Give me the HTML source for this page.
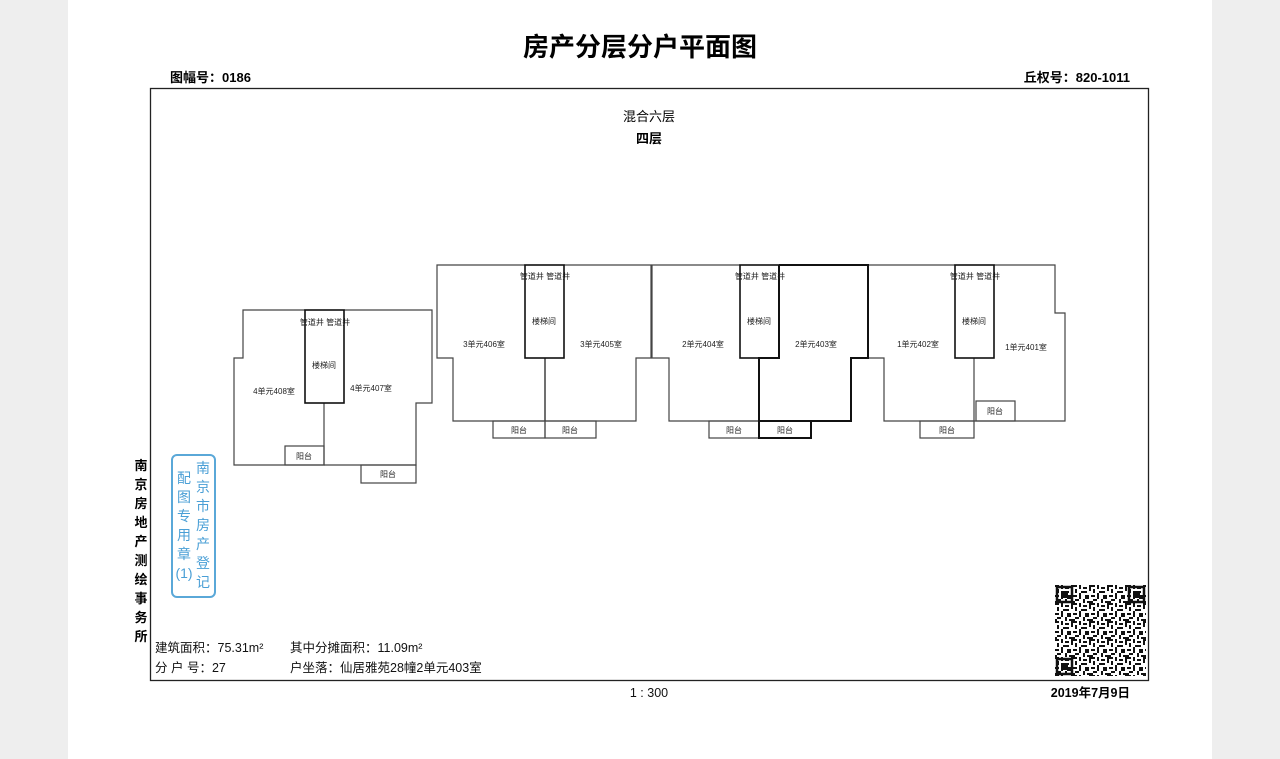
<!DOCTYPE html>
<html><head><meta charset="utf-8"><style>
html,body{margin:0;padding:0;background:#eeeeee;}
svg{display:block;}
text{font-family:"Liberation Sans","Noto Sans CJK SC",sans-serif;}
</style></head><body>
<svg width="1280" height="759" viewBox="0 0 1280 759" xmlns="http://www.w3.org/2000/svg">
<defs>
<pattern id="qr" x="1055" y="585" width="18" height="18" patternUnits="userSpaceOnUse">
<rect x="0" y="0" width="4" height="2" fill="#111"/><rect x="6" y="0" width="2" height="4" fill="#111"/><rect x="10" y="2" width="4" height="2" fill="#111"/><rect x="16" y="0" width="2" height="6" fill="#111"/>
<rect x="2" y="4" width="2" height="4" fill="#111"/><rect x="8" y="6" width="6" height="2" fill="#111"/><rect x="0" y="10" width="4" height="2" fill="#111"/><rect x="6" y="8" width="2" height="6" fill="#111"/>
<rect x="12" y="10" width="4" height="4" fill="#111"/><rect x="2" y="14" width="4" height="2" fill="#111"/><rect x="10" y="14" width="2" height="4" fill="#111"/><rect x="14" y="16" width="4" height="2" fill="#111"/><rect x="0" y="16" width="2" height="2" fill="#111"/>
</pattern>
</defs>
<rect x="68" y="0" width="1144" height="759" fill="#fff"/>
<text x="640" y="56" font-size="26" font-weight="bold" text-anchor="middle">房产分层分户平面图</text>
<text x="170" y="82" font-size="13" font-weight="bold">图幅号：0186</text>
<text x="1130" y="82" font-size="13" font-weight="bold" text-anchor="end">丘权号：820-1011</text>
<rect x="150.5" y="88.5" width="998" height="592" fill="none" stroke="#222" stroke-width="1.3"/>
<text x="649" y="121" font-size="13" text-anchor="middle">混合六层</text>
<text x="649" y="143" font-size="13" font-weight="bold" text-anchor="middle">四层</text>
<g fill="none" stroke="#444" stroke-width="1.2">
<polyline points="305,310 243,310 243,358 234,358 234,465 324,465 324,403"/>
<polyline points="344,310 432,310 432,403 416,403 416,465 324,465"/>
<rect x="305" y="310" width="39" height="93" stroke="#111" stroke-width="1.6"/>
<rect x="285" y="446" width="39" height="19"/>
<rect x="361" y="465" width="55" height="18"/>
<polyline points="525,265 437,265 437,358 453,358 453,421 636,421 636,358 651,358 651,265 564,265"/>
<rect x="525" y="265" width="39" height="93" stroke="#111" stroke-width="1.6"/>
<line x1="545" y1="358" x2="545" y2="421" stroke="#111"/>
<rect x="493" y="421" width="52" height="17"/><rect x="545" y="421" width="51" height="17"/>
<polyline points="740,265 652,265 652,358 669,358 669,421 759,421"/>
<rect x="740" y="265" width="39" height="93" stroke="#111" stroke-width="1.6"/>
<rect x="709" y="421" width="50" height="17"/>
<polyline points="955,265 868,265 868,358 884,358 884,421 974,421 974,358"/>
<polyline points="994,265 1055,265 1055,313 1065,313 1065,421 974,421"/>
<rect x="955" y="265" width="39" height="93" stroke="#111" stroke-width="1.6"/>
<rect x="976" y="401" width="39" height="20"/>
<rect x="920" y="421" width="54" height="17"/>
</g>
<g fill="none" stroke="#111" stroke-width="2">
<polyline points="779,265 868,265 868,358 851,358 851,421 759,421 759,358 779,358 779,265"/>
<rect x="759" y="421" width="52" height="17"/>
</g>
<g font-size="8" fill="#222" text-anchor="middle">
<text x="325" y="325">管道井 管道井</text>
<text x="545" y="279">管道井 管道井</text>
<text x="760" y="279">管道井 管道井</text>
<text x="975" y="279">管道井 管道井</text>
<text x="324" y="368">楼梯间</text><text x="544" y="324">楼梯间</text><text x="759" y="324">楼梯间</text><text x="974" y="324">楼梯间</text>
<text x="274" y="394">4单元408室</text><text x="371" y="391">4单元407室</text>
<text x="484" y="347">3单元406室</text><text x="601" y="347">3单元405室</text>
<text x="703" y="347">2单元404室</text><text x="816" y="347">2单元403室</text>
<text x="918" y="347">1单元402室</text><text x="1026" y="350">1单元401室</text>
<text x="304" y="459">阳台</text><text x="388" y="477">阳台</text>
<text x="519" y="433">阳台</text><text x="570" y="433">阳台</text>
<text x="734" y="433">阳台</text><text x="785" y="433">阳台</text>
<text x="947" y="433">阳台</text><text x="995" y="414">阳台</text>
</g>
<g font-size="13" font-weight="bold" text-anchor="middle">
<text x="141" y="470">南</text><text x="141" y="489">京</text><text x="141" y="508">房</text><text x="141" y="527">地</text><text x="141" y="546">产</text><text x="141" y="565">测</text><text x="141" y="584">绘</text><text x="141" y="603">事</text><text x="141" y="622">务</text><text x="141" y="641">所</text>
</g>
<rect x="172" y="455" width="43" height="142" rx="5" fill="none" stroke="#5aa8d8" stroke-width="2"/>
<g font-size="14" fill="#4a9fd6" text-anchor="middle">
<text x="203" y="473">南</text><text x="203" y="492">京</text><text x="203" y="511">市</text><text x="203" y="530">房</text><text x="203" y="549">产</text><text x="203" y="568">登</text><text x="203" y="587">记</text>
<text x="184" y="483">配</text><text x="184" y="502">图</text><text x="184" y="521">专</text><text x="184" y="540">用</text><text x="184" y="559">章</text><text x="184" y="578">(1)</text>
</g>
<rect x="1055" y="585" width="91" height="91" fill="url(#qr)"/>
<g fill="none" stroke="#111" stroke-width="2.5">
<rect x="1057" y="587" width="15" height="15"/><rect x="1129" y="587" width="15" height="15"/><rect x="1057" y="659" width="15" height="15"/>
</g>
<g fill="#111"><rect x="1061" y="591" width="7" height="7"/><rect x="1133" y="591" width="7" height="7"/><rect x="1061" y="663" width="7" height="7"/></g>
<g font-size="12.5" fill="#111">
<text x="155" y="652">建筑面积：75.31m²</text>
<text x="290" y="652">其中分摊面积：11.09m²</text>
<text x="155" y="672">分 户 号：27</text>
<text x="290" y="672">户坐落：仙居雅苑28幢2单元403室</text>
<text x="649" y="697" text-anchor="middle">1 : 300</text>
</g>
<text x="1130" y="697" font-size="12.5" font-weight="bold" text-anchor="end">2019年7月9日</text>
</svg>
</body></html>
